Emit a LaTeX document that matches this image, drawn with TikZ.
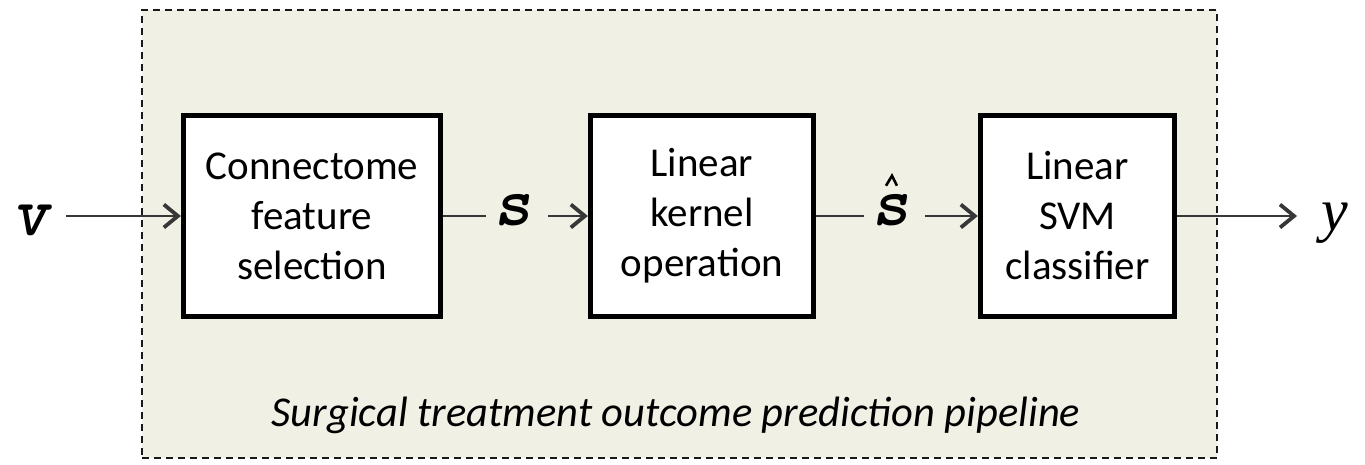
\documentclass[tikz,border=0pt]{standalone}
\usepackage{fontspec}
\setmainfont{Carlito}
\newfontfamily\yfont{Liberation Serif}
\usetikzlibrary{arrows.meta}
\definecolor{panelfill}{RGB}{240,241,228}
\definecolor{shaft}{RGB}{55,55,55}
\begin{document}
\begin{tikzpicture}[x=1pt,y=-1pt,
  stage/.style={draw=black,line width=4.8pt,fill=white,inner sep=0pt,
    minimum height=201.5pt,align=center,font=\fontsize{41}{50}\selectfont},
  flow/.style={draw=shaft,line width=2pt},
  tip/.style={-{Straight Barb[length=14pt,width=23pt,line width=3.8pt]}},
  vec/.style={font=\fontsize{70}{70}\ttfamily\bfseries\slshape,inner sep=0pt,anchor=base}]
\useasboundingbox[fill=white] (0,0) rectangle (1365,464);
\node[draw=black!90,fill=panelfill,line width=2.6pt,dash pattern=on 7pt off 5pt,
  minimum width=1075pt,minimum height=448pt,inner sep=0pt] (panel) at (679.5,234) {};
\node[stage,minimum width=257.5pt] (sel) at (312,216) {Connectome\\feature\\selection};
\node[stage,minimum width=223.5pt] (ker) at (702,216) {Linear\\kernel\\operation};
\node[stage,minimum width=194.5pt] (svm) at (1077.5,216) {Linear\\SVM\\classifier};
\node[vec] (v) at (31,235) {v};
\coordinate (vend) at (66,216);
\draw[flow,tip] (vend) -- (sel.west);
\node[vec] (s) at (513,225) {s};
\coordinate (s1) at (486,216);
\coordinate (s2) at (548,216);
\draw[flow] (sel.east) -- (s1);
\draw[flow,tip] (s2) -- (ker.west);
\node[vec] (sh) at (891,225) {s};
\draw[line width=2.6pt] ([xshift=-5pt,yshift=8pt]sh.north) -- ([xshift=1pt,yshift=18pt]sh.north) -- ([xshift=6pt,yshift=8pt]sh.north);
\coordinate (h1) at (864,216);
\coordinate (h2) at (925,216);
\draw[flow] (ker.east) -- (h1);
\draw[flow,tip] (h2) -- (svm.west);
\coordinate (yend) at (1297,216);
\draw[flow,tip] (svm.east) -- (yend);
\node[font=\fontsize{60}{60}\yfont\itshape,inner sep=0pt,anchor=base] (y) at (1335,230) {y};
\node[font=\fontsize{42.5}{42.5}\selectfont\itshape,anchor=base,inner sep=0pt] (cap) at (676,426) {Surgical treatment outcome prediction pipeline};
\end{tikzpicture}
\end{document}
